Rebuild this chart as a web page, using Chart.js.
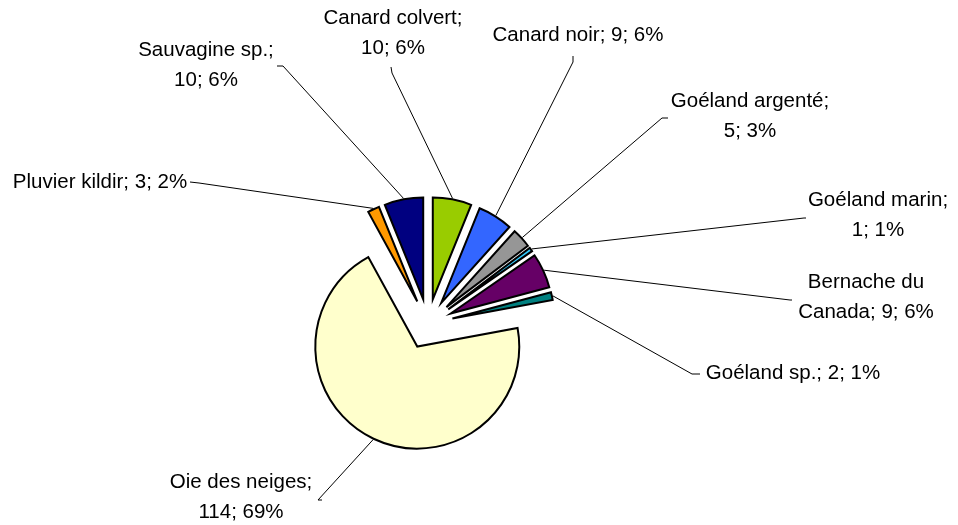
<!DOCTYPE html>
<html>
<head>
<meta charset="utf-8">
<title>Oiseaux</title>
<script src="https://cdn.jsdelivr.net/npm/chart.js@4.4.1/dist/chart.umd.min.js"></script>
<style>
html, body { margin: 0; padding: 0; background: #fff; }
#wrap { width: 958px; height: 525px; }
</style>
</head>
<body>
<div id="wrap"><canvas id="pieChart" width="958" height="525"></canvas></div>
<script>
// counts per species, clockwise from 12 o'clock
var species = ["Canard colvert", "Canard noir", "Goéland argenté", "Goéland marin", "Bernache du Canada", "Goéland sp.", "Oie des neiges", "Pluvier kildir", "Sauvagine sp."];
var counts = [10, 9, 5, 1, 9, 2, 114, 3, 10];
var percents = [6, 6, 3, 1, 6, 1, 69, 2, 6];
var colors = ["#99CC00", "#3366FF", "#969696", "#33CCFF", "#660066", "#008080", "#FFFFCC", "#FF9900", "#000080"];

// where each label sits: text centre, words on first line (0 = one line),
// and the two points where its leader starts
var labelSpots = [
  {x: 393, y: 18,  words: 2, from: [391, 67],  to: [392, 73]},
  {x: 578, y: 35,  words: 0, from: [573, 56],  to: [573, 62]},
  {x: 750, y: 101, words: 2, from: [668, 118], to: [662, 118]},
  {x: 878, y: 200, words: 2, from: [806, 218], to: [804, 218]},
  {x: 866, y: 282, words: 2, from: [792, 300], to: [790, 300]},
  {x: 793, y: 373, words: 0, from: [700, 374], to: [692, 374]},
  {x: 241, y: 482, words: 3, from: [322, 500], to: [318, 500]},
  {x: 100, y: 182, words: 0, from: [190, 182], to: [199, 183]},
  {x: 206, y: 50,  words: 2, from: [277, 66],  to: [283, 66]}
];

// pull every slice away from the centre along its middle angle
var explodePlugin = {
  id: 'explode',
  beforeDatasetDraw: function(chart, args, opts) {
    args.meta.data.forEach(function(arc) {
      var mid = (arc.startAngle + arc.endAngle) / 2;
      arc._home = [arc.x, arc.y];
      arc.x += Math.cos(mid) * opts.distance;
      arc.y += Math.sin(mid) * opts.distance;
    });
  },
  afterDatasetDraw: function(chart, args) {
    args.meta.data.forEach(function(arc) {
      arc.x = arc._home[0];
      arc.y = arc._home[1];
    });
  }
};

// "name; count; pct%" labels with leader lines to the slice edge
var labelPlugin = {
  id: 'sliceLabels',
  afterDraw: function(chart) {
    var ctx = chart.ctx;
    var d = chart.options.plugins.explode.distance;
    var arcs = chart.getDatasetMeta(0).data;
    ctx.save();
    ctx.font = '20.5px "Liberation Sans", Arial, sans-serif';
    ctx.fillStyle = '#000';
    ctx.strokeStyle = '#000';
    ctx.lineWidth = 1;
    ctx.textAlign = 'center';
    ctx.textBaseline = 'middle';
    arcs.forEach(function(arc, i) {
      var spot = labelSpots[i];
      var mid = (arc.startAngle + arc.endAngle) / 2;
      var r = arc.outerRadius + 1;
      var ex = arc.x + Math.cos(mid) * (d + r);
      var ey = arc.y + Math.sin(mid) * (d + r);
      ctx.beginPath();
      ctx.moveTo(spot.from[0], spot.from[1]);
      ctx.lineTo(spot.to[0], spot.to[1]);
      ctx.lineTo(ex, ey);
      ctx.stroke();

      var words = (species[i] + '; ' + counts[i] + '; ' + percents[i] + '%').split(' ');
      var lines = spot.words ? [words.slice(0, spot.words).join(' '), words.slice(spot.words).join(' ')] : [words.join(' ')];
      lines.forEach(function(t, k) {
        ctx.fillText(t, spot.x, spot.y + k * 30);
      });
    });
    ctx.restore();
  }
};

var ctxP = document.getElementById('pieChart').getContext('2d');
var myPieChart = new Chart(ctxP, {
  type: 'pie',
  data: {
    labels: species,
    datasets: [{
      data: counts,
      backgroundColor: colors,
      borderColor: '#000',
      borderWidth: 2,
      borderJoinStyle: 'miter'
    }]
  },
  options: {
    responsive: false,
    devicePixelRatio: 1,
    animation: false,
    events: [],
    layout: { padding: { left: 325, top: 221, right: 427, bottom: 98 } },
    plugins: {
      legend: { display: false },
      tooltip: { enabled: false },
      explode: { distance: 25 }
    }
  },
  plugins: [explodePlugin, labelPlugin]
});
</script>
</body>
</html>
